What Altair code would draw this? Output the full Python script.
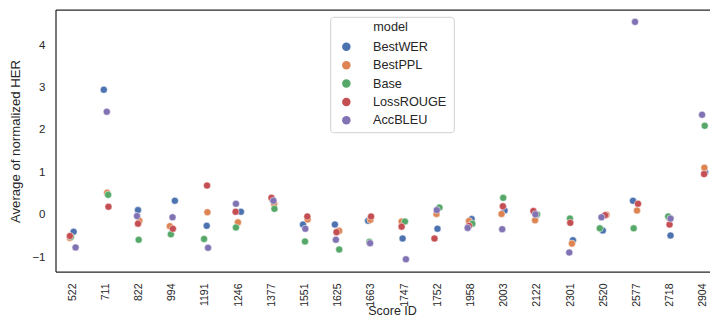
import altair as alt
import pandas as pd

score_ids = ["522", "711", "822", "994", "1191", "1246", "1377", "1551", "1625", "1663",
             "1747", "1752", "1958", "2003", "2122", "2301", "2520", "2577", "2718", "2904"]

models = ["BestWER", "BestPPL", "Base", "LossROUGE", "AccBLEU"]
colors = ["#4c72b0", "#dd8452", "#55a868", "#c44e52", "#8172b3"]

best_wer = [-0.40, 2.95, 0.11, 0.33, -0.26, 0.07, 0.36, -0.23, -0.23, -0.14,
            -0.56, -0.33, -0.10, 0.10, -0.02, -0.60, -0.37, 0.33, -0.49, 1.00]
best_ppl = [-0.55, 0.52, -0.14, -0.27, 0.06, -0.18, 0.26, -0.11, -0.38, -0.12,
            -0.16, 0.02, -0.15, 0.02, -0.13, -0.68, 0.00, 0.10, -0.07, 1.11]
base = [-0.52, 0.47, -0.59, -0.46, -0.57, -0.30, 0.14, -0.63, -0.82, -0.64,
        -0.16, 0.17, -0.21, 0.40, 0.01, -0.09, -0.32, -0.32, -0.04, 2.10]
loss_rouge = [-0.50, 0.19, -0.21, -0.33, 0.69, 0.07, 0.40, -0.04, -0.41, -0.04,
              -0.28, -0.56, -0.26, 0.20, 0.09, -0.19, -0.01, 0.26, -0.23, 0.96]
acc_bleu = [-0.77, 2.43, -0.03, -0.06, -0.78, 0.26, 0.33, -0.33, -0.59, -0.67,
            -1.05, 0.11, -0.31, -0.34, 0.01, -0.89, -0.06, 4.55, -0.09, 2.36]

# strip-plot jitter (fraction of a category slot)
jit_wer = [0.03, -0.06, -0.03, 0.08, 0.04, 0.07, 0.02, -0.06, -0.10, -0.10,
           -0.06, -0.01, 0.02, 0.01, -0.04, 0.07, -0.03, -0.12, 0.01, 0.05]
jit_ppl = [-0.08, 0.04, 0.01, -0.07, 0.06, -0.02, 0.07, 0.08, 0.03, -0.03,
           -0.09, -0.04, -0.06, -0.08, -0.07, 0.04, 0.08, 0.00, -0.04, 0.03]
jit_base = [-0.05, 0.07, -0.01, -0.04, -0.04, -0.08, 0.08, 0.00, 0.03, -0.06,
            0.01, 0.05, 0.04, -0.03, -0.01, -0.02, -0.12, -0.10, -0.06, 0.04]
jit_rouge = [-0.08, 0.08, -0.03, 0.02, 0.05, -0.09, -0.01, 0.07, -0.05, -0.01,
             -0.09, -0.10, -0.06, -0.04, -0.12, -0.01, 0.04, 0.03, -0.02, 0.02]
jit_bleu = [0.09, 0.03, -0.06, 0.01, 0.08, -0.08, 0.05, 0.01, -0.07, -0.04,
            0.04, -0.03, -0.10, -0.06, -0.06, -0.04, -0.07, -0.06, 0.01, -0.04]

series = [best_wer, best_ppl, base, loss_rouge, acc_bleu]
jitters = [jit_wer, jit_ppl, jit_base, jit_rouge, jit_bleu]

rows = []
for m, vals, jits in zip(models, series, jitters):
    for s, v, j in zip(score_ids, vals, jits):
        rows.append({"score": s, "her": v, "model": m, "jit": j})
df = pd.DataFrame(rows)

FONT = "Liberation Sans"
TXT = "#262626"
W, H = 654, 262          # visible plot area (the right part is cut by the page edge)
X_RANGE = 664            # full category span, slightly beyond the visible edge

points = alt.Chart(df).mark_circle(size=50, opacity=1, stroke="white", strokeWidth=0.5).encode(
    x=alt.X("score:N", sort=score_ids, title="Score ID",
            scale=alt.Scale(paddingInner=0, paddingOuter=0, range=[0, X_RANGE]),
            axis=alt.Axis(labelAngle=270, labelAlign="right", labelBaseline="middle",
                          ticks=False, tickSize=0, domain=False, grid=False,
                          labelPadding=11, labelFontSize=10.5, labelColor=TXT, labelFont=FONT,
                          titleFont=FONT, titleFontSize=12.5, titleFontWeight="normal",
                          titleColor=TXT, titleBaseline="alphabetic",
                          titleX=336, titleY=42.5)),
    xOffset=alt.XOffset("jit:Q", scale=alt.Scale(domain=[-0.5, 0.5])),
    y=alt.Y("her:Q", title="Average of normalized HER",
            scale=alt.Scale(domain=[-1.35, 4.83], nice=False, zero=False),
            axis=alt.Axis(values=[-1, 0, 1, 2, 3, 4], ticks=False, tickSize=0, domain=False,
                          grid=False, labelPadding=11, labelFontSize=11.5, labelColor=TXT,
                          labelFont=FONT, titleFont=FONT, titleFontSize=13.2,
                          titleFontWeight="normal", titleColor=TXT, titlePadding=9)),
    color=alt.Color("model:N", sort=models,
                    scale=alt.Scale(domain=models, range=colors),
                    legend=alt.Legend(title=None, orient="none", legendX=284, legendY=30.4,
                                      symbolType="circle", symbolSize=72, symbolStrokeWidth=0,
                                      labelFont=FONT, labelFontSize=12.7, labelColor=TXT,
                                      labelOffset=20.3, rowPadding=4.4, padding=0)),
)

one = alt.Data(values=[{"t": "model"}])

frame_top = alt.Chart(one).mark_rule(color=TXT, strokeWidth=1.25).encode(
    x=alt.value(0), x2=alt.value(W), y=alt.value(0))
frame_bottom = alt.Chart(one).mark_rule(color=TXT, strokeWidth=1.25).encode(
    x=alt.value(0), x2=alt.value(W), y=alt.value(H))
frame_left = alt.Chart(one).mark_rule(color=TXT, strokeWidth=1.25).encode(
    x=alt.value(0), y=alt.value(0), y2=alt.value(H))

legend_box = alt.Chart(one).mark_rect(
    fill="white", fillOpacity=0.8, stroke="#d0d0d0", strokeWidth=1, cornerRadius=3
).encode(x=alt.value(274.7), x2=alt.value(398.3), y=alt.value(7.3), y2=alt.value(122.7))

legend_title = alt.Chart(one).mark_text(
    align="left", baseline="middle", font=FONT, fontSize=12.7, color=TXT
).encode(text="t:N", x=alt.value(317.3), y=alt.value(16.7))

chart = alt.layer(points, frame_top, frame_bottom, frame_left, legend_box, legend_title).properties(
    width=W, height=H,
    padding={"left": 48, "top": 2, "right": 0, "bottom": 46},
    autosize=alt.AutoSizeParams(type="none"),
    background="white",
).configure_view(stroke=None)

chart.save("out.html", embed_options={"renderer": "svg", "actions": False})
